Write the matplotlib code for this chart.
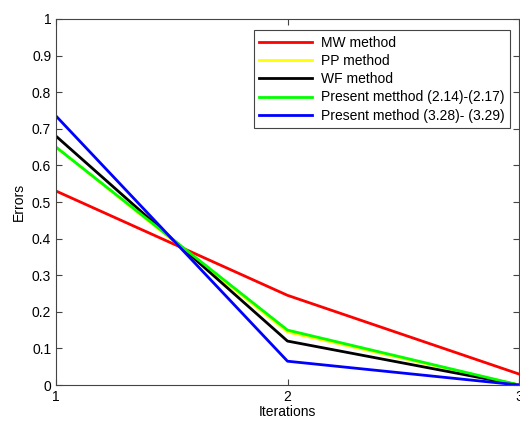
import matplotlib.pyplot as plt
import numpy as np

plt.rcParams['font.family'] = ['Liberation Sans', 'DejaVu Sans']

# data
iterations = [1, 2, 3]
mw = [0.53, 0.245, 0.03]
pp = [0.65, 0.145, 0.0]
wf = [0.68, 0.12, 0.0]
present1 = [0.65, 0.15, 0.0]
present2 = [0.735, 0.065, 0.0]

labels = ['MW method', 'PP method', 'WF method',
          'Present metthod (2.14)-(2.17)', 'Present method (3.28)- (3.29)']
colors = ['#ff0000', '#ffff00', '#000000', '#00ff00', '#0000ff']

fig = plt.figure(figsize=(5.2, 4.23), dpi=100)
ax = fig.add_axes([56/520, 38/423, 463/520, 366/423])

for ys, lab, c in zip([mw, pp, wf, present1, present2], labels, colors):
    ax.plot(iterations, ys, color=c, lw=2, label=lab)

ax.set_xlim(1, 3)
ax.set_ylim(0, 1)
ax.set_xticks([1, 2, 3])
ax.set_yticks(np.arange(0, 1.01, 0.1))
ax.set_yticklabels(['0', '0.1', '0.2', '0.3', '0.4', '0.5', '0.6', '0.7', '0.8', '0.9', '1'])
ax.tick_params(direction='in', top=True, right=True, labelsize=10, length=4, color='#444444')
for s in ax.spines.values():
    s.set_color('#444444')
    s.set_linewidth(0.8)
ax.set_xlabel('Iterations', fontsize=10, labelpad=1)
ax.set_ylabel('Errors', fontsize=10, labelpad=4)

leg = ax.legend(loc='upper right', bbox_to_anchor=(0.98, 0.969), fontsize=10,
                fancybox=False, framealpha=1, edgecolor='#444444',
                handlelength=3.8, borderaxespad=0, labelspacing=0.3,
                borderpad=0.4, handletextpad=0.6)
leg.get_frame().set_linewidth(0.8)

fig.savefig('out.png', dpi=100)
